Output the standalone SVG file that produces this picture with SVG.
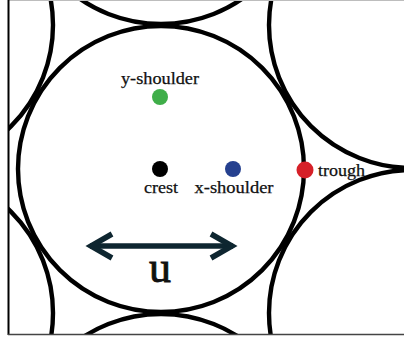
<svg xmlns="http://www.w3.org/2000/svg" width="404" height="339" viewBox="0 0 404 339">
  <style>
    .ring { fill: none; stroke: #000; stroke-width: 4.4; }
    .lbl { font-family: "Liberation Serif", "DejaVu Serif", serif; font-size: 16px; fill: #111; stroke: #111; stroke-width: 0.25; }
    .arr { fill: none; stroke: #0e2630; stroke-width: 5.5; stroke-linejoin: miter; stroke-linecap: butt; }
  </style>
  <defs>
    <clipPath id="frame">
      <rect x="8" y="0" width="396" height="334"/>
    </clipPath>
  </defs>
  <rect x="0" y="0" width="404" height="339" fill="#fff"/>
  <g id="packing" clip-path="url(#frame)">
    <circle class="ring" cx="161" cy="169" r="143"/>
    <circle class="ring" cx="161" cy="-119" r="143"/>
    <circle class="ring" cx="161" cy="457" r="143"/>
    <circle class="ring" cx="-90" cy="25" r="143"/>
    <circle class="ring" cx="-90" cy="313" r="143"/>
    <circle class="ring" cx="412" cy="25" r="143"/>
    <circle class="ring" cx="412" cy="313" r="143"/>
  </g>
  <g id="frame-lines">
    <line x1="8" y1="0.5" x2="404" y2="0.5" stroke="#bdbdbd" stroke-width="1.2"/>
    <line x1="8.5" y1="0" x2="8.5" y2="335" stroke="#000" stroke-width="2"/>
    <line x1="8" y1="334.5" x2="404" y2="334.5" stroke="#444" stroke-width="1.5"/>
  </g>
  <g id="y-shoulder">
    <circle cx="160" cy="97" r="8" fill="#3fae49"/>
    <text class="lbl" x="160" y="84" text-anchor="middle" textLength="78" lengthAdjust="spacingAndGlyphs">y-shoulder</text>
  </g>
  <g id="crest">
    <circle cx="160" cy="169" r="8" fill="#000"/>
    <text class="lbl" x="161" y="193" text-anchor="middle" textLength="34" lengthAdjust="spacingAndGlyphs">crest</text>
  </g>
  <g id="x-shoulder">
    <circle cx="233" cy="169" r="8" fill="#25408f"/>
    <text class="lbl" x="234" y="193" text-anchor="middle" textLength="79" lengthAdjust="spacingAndGlyphs">x-shoulder</text>
  </g>
  <g id="trough">
    <circle cx="305" cy="170" r="8.5" fill="#d62028"/>
    <text class="lbl" x="318" y="175.5" textLength="47" lengthAdjust="spacingAndGlyphs">trough</text>
  </g>
  <g id="connectors">
    <line class="arr" x1="90" y1="246" x2="233" y2="246"/>
    <path class="arr" d="M112,234 L91,246 L112,258"/>
    <path class="arr" d="M211,234 L232,246 L211,258"/>
  </g>
  <g id="u-label">
    <text x="160" y="282" text-anchor="middle" font-family="Liberation Serif, DejaVu Serif, serif" font-size="44" fill="#111" stroke="#111" stroke-width="0.9">u</text>
  </g>
</svg>
